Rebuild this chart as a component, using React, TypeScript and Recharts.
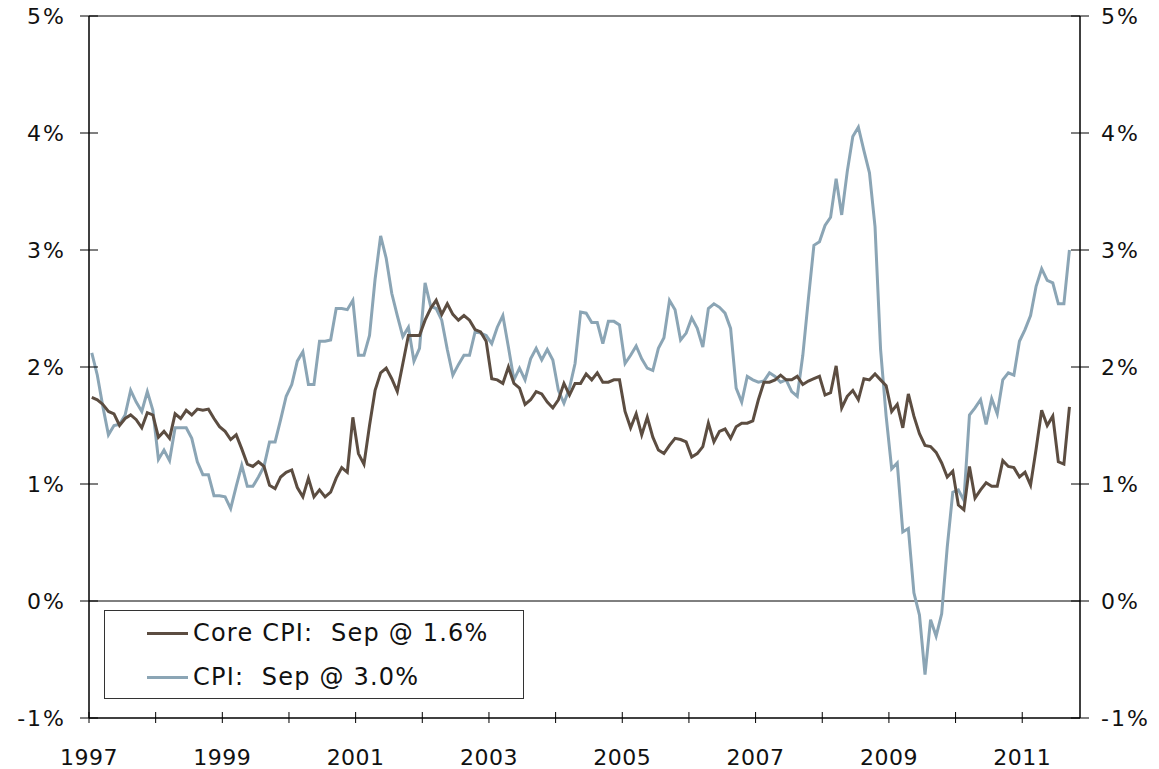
import React from "react";
import { Line, LineChart, ReferenceLine, XAxis, YAxis } from "recharts";

// monthly y/y rates, Jan 1997 .. Sep 2011
const START_YEAR = 1997;

const CORE = [
  1.74, 1.72, 1.68, 1.62, 1.6, 1.5, 1.56, 1.59, 1.55, 1.48, 1.61, 1.59,
  1.4, 1.45, 1.39, 1.6, 1.56, 1.63, 1.59, 1.64, 1.63, 1.64, 1.56, 1.49,
  1.45, 1.38, 1.42, 1.3, 1.17, 1.15, 1.19, 1.15, 0.99, 0.96, 1.06, 1.1,
  1.12, 0.97, 0.89, 1.05, 0.89, 0.95, 0.89, 0.93, 1.05, 1.14, 1.1, 1.57,
  1.26, 1.17, 1.5, 1.8, 1.95, 1.99, 1.9, 1.79, 2.03, 2.27, 2.27, 2.27,
  2.4, 2.5, 2.57, 2.45, 2.54, 2.45, 2.4, 2.44, 2.4, 2.32, 2.3, 2.22,
  1.9, 1.89, 1.86, 2.0, 1.86, 1.82, 1.68, 1.72, 1.79, 1.77, 1.7, 1.65,
  1.72, 1.86, 1.76, 1.86, 1.86, 1.94, 1.89, 1.95, 1.87, 1.87, 1.89, 1.89,
  1.62, 1.48, 1.6, 1.42, 1.57, 1.4, 1.29, 1.26, 1.33, 1.39, 1.38, 1.36,
  1.23, 1.26, 1.32, 1.52, 1.36, 1.45, 1.47, 1.39, 1.49, 1.52, 1.52, 1.54,
  1.72, 1.87, 1.87, 1.89, 1.93, 1.89, 1.89, 1.92, 1.85, 1.88, 1.9, 1.92,
  1.76, 1.78, 2.01, 1.65, 1.75, 1.8, 1.72, 1.9, 1.89, 1.94, 1.89, 1.84,
  1.62, 1.68, 1.48, 1.77, 1.58, 1.43, 1.33, 1.32, 1.27, 1.18, 1.06, 1.11,
  0.82, 0.78, 1.15, 0.88, 0.95, 1.01, 0.98, 0.98, 1.2, 1.15, 1.14, 1.06,
  1.1, 0.99, 1.3, 1.63, 1.5, 1.58, 1.19, 1.17, 1.66,
];

const CPI = [
  2.12, 1.93, 1.66, 1.42, 1.5, 1.51, 1.59, 1.8, 1.7, 1.62, 1.79, 1.63,
  1.21, 1.29, 1.2, 1.48, 1.48, 1.48, 1.39, 1.19, 1.08, 1.08, 0.9, 0.9,
  0.89, 0.79, 0.98, 1.16, 0.98, 0.98, 1.06, 1.15, 1.36, 1.36, 1.55, 1.75,
  1.85, 2.05, 2.13, 1.85, 1.85, 2.22, 2.22, 2.23, 2.5, 2.5, 2.49, 2.57,
  2.1, 2.1, 2.27, 2.75, 3.12, 2.93, 2.63, 2.44, 2.26, 2.34, 2.05, 2.16,
  2.72, 2.52, 2.5, 2.4, 2.15, 1.93, 2.02, 2.1, 2.1, 2.3, 2.29, 2.27,
  2.2, 2.34, 2.44, 2.17, 1.89, 1.99, 1.89, 2.07, 2.16, 2.06, 2.15, 2.06,
  1.8, 1.69, 1.82, 2.03, 2.47, 2.46, 2.38, 2.38, 2.2, 2.39, 2.39, 2.36,
  2.03, 2.1, 2.18, 2.07, 1.99, 1.97, 2.16, 2.25, 2.57, 2.49, 2.23, 2.29,
  2.42, 2.33, 2.17, 2.5, 2.54, 2.51, 2.46, 2.33, 1.82, 1.7, 1.92, 1.89,
  1.87, 1.88, 1.95, 1.92, 1.87, 1.89, 1.79, 1.75, 2.1, 2.58, 3.04, 3.07,
  3.21, 3.28, 3.61, 3.3, 3.67, 3.97, 4.05, 3.85, 3.66, 3.2, 2.15, 1.58,
  1.13, 1.18, 0.59, 0.62, 0.07, -0.12, -0.63, -0.16, -0.3, -0.11, 0.46, 0.93,
  0.95, 0.86, 1.59, 1.65, 1.72, 1.51, 1.73, 1.6, 1.89, 1.95, 1.93, 2.22,
  2.32, 2.44, 2.69, 2.84, 2.74, 2.72, 2.54, 2.54, 3.0,
];

const Y_TICKS = [-1, 0, 1, 2, 3, 4, 5];
const X_TICKS = [1997, 1998, 1999, 2000, 2001, 2002, 2003, 2004, 2005, 2006, 2007, 2008, 2009, 2010, 2011];

const CORE_COLOR = "#5c4d41";
const CPI_COLOR = "#8ba5b5";
const FONT = "'DejaVu Sans', Verdana, sans-serif";

const W = 1159;
const H = 769;
const PLOT_L = 89;
const PLOT_R = 1080;
const PLOT_B = 718;

const data = CORE.map((c, i) => ({
  t: START_YEAR + (i + 0.5) / 12, // mid-month
  core: c,
  cpi: CPI[i],
}));

function LeftTick({ y, payload }: any) {
  return (
    <g>
      <line x1={PLOT_L - 9} x2={PLOT_L + 9} y1={y} y2={y} stroke="#000" strokeWidth={1} />
      <text x={66} y={y} dy={8} textAnchor="end" fontSize={22} letterSpacing={2} fontFamily={FONT} fill="#111">
        {`${payload.value}%`}
      </text>
    </g>
  );
}

function RightTick({ y, payload }: any) {
  return (
    <g>
      <line x1={PLOT_R - 9} x2={PLOT_R + 9} y1={y} y2={y} stroke="#000" strokeWidth={1} />
      <text x={1101} y={y} dy={8} textAnchor="start" fontSize={22} letterSpacing={2} fontFamily={FONT} fill="#111">
        {`${payload.value}%`}
      </text>
    </g>
  );
}

function BottomTick({ x, payload }: any) {
  const yr = payload.value as number;
  return (
    <g>
      <line x1={x} x2={x} y1={PLOT_B - 6} y2={PLOT_B + 5} stroke="#000" strokeWidth={1} />
      {(yr - START_YEAR) % 2 === 0 && (
        <text x={x} y={PLOT_B + 47} textAnchor="middle" fontSize={22} letterSpacing={0.5} fontFamily={FONT} fill="#111">
          {yr}
        </text>
      )}
    </g>
  );
}

function LegendRow({ color, label }: { color: string; label: string }) {
  return (
    <div style={{ display: "flex", alignItems: "center", height: 44 }}>
      <div style={{ width: 41, height: 3, background: color, marginLeft: 42, marginRight: 5 }} />
      <span style={{ whiteSpace: "pre" }}>{label}</span>
    </div>
  );
}

export default function App() {
  return (
    <div style={{ position: "absolute", left: 0, top: 0, width: W, height: H, background: "#fff" }}>
      <LineChart width={W} height={H} data={data} margin={{ top: 16, right: 0, bottom: 0, left: 0 }}>
        <XAxis
          dataKey="t"
          type="number"
          domain={[START_YEAR, START_YEAR + 178.4 / 12]}
          ticks={X_TICKS}
          tick={<BottomTick />}
          tickLine={false}
          axisLine={{ stroke: "#000", strokeWidth: 1.5 }}
          height={51}
          allowDataOverflow
        />
        <YAxis
          yAxisId="l"
          domain={[-1, 5]}
          ticks={Y_TICKS}
          tick={<LeftTick />}
          tickLine={false}
          axisLine={{ stroke: "#000", strokeWidth: 1.5 }}
          width={89}
          allowDataOverflow
        />
        <YAxis
          yAxisId="r"
          orientation="right"
          domain={[-1, 5]}
          ticks={Y_TICKS}
          tick={<RightTick />}
          tickLine={false}
          axisLine={{ stroke: "#000", strokeWidth: 1.5 }}
          width={79}
          allowDataOverflow
        />
        <ReferenceLine yAxisId="l" y={5} stroke="#000" strokeWidth={1} />
        <ReferenceLine yAxisId="l" y={0} stroke="#000" strokeWidth={1} />
        <Line
          yAxisId="l"
          dataKey="cpi"
          stroke={CPI_COLOR}
          strokeWidth={3}
          dot={false}
          isAnimationActive={false}
        />
        <Line
          yAxisId="l"
          dataKey="core"
          stroke={CORE_COLOR}
          strokeWidth={3}
          dot={false}
          isAnimationActive={false}
        />
      </LineChart>
      <div
        style={{
          position: "absolute",
          left: 104,
          top: 610,
          width: 420,
          height: 89,
          boxSizing: "border-box",
          border: "1px solid #333",
          background: "#fff",
          fontFamily: FONT,
          fontSize: 24,
          letterSpacing: 1.2,
          color: "#111",
        }}
      >
        <LegendRow color={CORE_COLOR} label="Core CPI:  Sep @ 1.6%" />
        <LegendRow color={CPI_COLOR} label="CPI:  Sep @ 3.0%" />
      </div>
    </div>
  );
}
